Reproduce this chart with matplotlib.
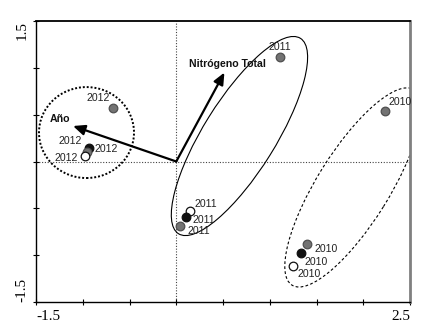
import matplotlib
matplotlib.use("Agg")
import matplotlib.pyplot as plt
from matplotlib.patches import Ellipse
import numpy as np

# ---- data ----
point_years = ["2012", "2012", "2012", "2012",
               "2011", "2011", "2011", "2011",
               "2010", "2010", "2010", "2010"]
point_x = [-0.676, -0.933, -0.955, -0.976,
           1.109, 0.142, 0.104, 0.040,
           2.233, 1.395, 1.334, 1.253]
point_y = [0.571, 0.144, 0.101, 0.059,
           1.115, -0.525, -0.589, -0.685,
           0.539, -0.884, -0.980, -1.112]
point_fill = ["gray", "black", "gray", "white",
              "gray", "white", "black", "gray",
              "gray", "gray", "black", "white"]
label_x = [-0.836, -1.136, -0.751, -1.179,
           1.104, 0.313, 0.291, 0.238,
           2.398, 1.607, 1.500, 1.420]
label_y = [0.678, 0.219, 0.133, 0.037,
           1.222, -0.454, -0.624, -0.742,
           0.635, -0.934, -1.073, -1.201]

vector_names = ["Año", "Nitrógeno Total"]
vector_x = [-1.104, 0.515]
vector_y = [0.379, 0.950]
vector_label_x = [-1.24, 0.545]
vector_label_y = [0.454, 1.040]

# groups: center x, center y, width, height, angle
group_cx = [-0.960, 0.676, 1.890]
group_cy = [0.309, 0.272, -0.277]
group_w = [1.016, 2.46, 2.46]
group_h = [0.971, 0.77, 0.77]
group_angle = [0, 58, 58]

xlim = (-1.5, 2.5)
ylim = (-1.5, 1.5)
xticks = [-1.5, -1.0, -0.5, 0.0, 0.5, 1.0, 1.5, 2.0, 2.5]
xticklabels = ["-1.5", "", "", "", "", "", "", "", "2.5"]
yticks = [-1.5, -1.0, -0.5, 0.0, 0.5, 1.0, 1.5]
yticklabels = ["-1.5", "", "", "", "", "", "1.5"]

# ---- figure ----
fig = plt.figure(figsize=(4.29, 3.31), dpi=100)
ax = fig.add_axes([36/429, 1-302/331, 374/429, 281/331])
ax.set_xlim(*xlim)
ax.set_ylim(*ylim)

ax.axhline(0, color="#444444", lw=0.8, ls=(0, (1, 1.5)), zorder=1)
ax.axvline(0, color="#444444", lw=0.8, ls=(0, (1, 1.5)), zorder=1)

styles = [dict(ls=(0, (1, 1)), lw=1.4), dict(ls="-", lw=0.8), dict(ls=(0, (2.5, 2)), lw=0.8)]
for cx, cy, w, h, a, st in zip(group_cx, group_cy, group_w, group_h, group_angle, styles):
    e = Ellipse((cx, cy), w, h, angle=a, fill=False, edgecolor="black", zorder=2, **st)
    ax.add_patch(e)

for vx, vy in zip(vector_x, vector_y):
    ax.annotate("", xy=(vx, vy), xytext=(0, 0),
                arrowprops=dict(arrowstyle="-|>,head_length=0.5,head_width=0.22",
                                color="black", lw=1.6,
                                mutation_scale=14, shrinkA=0, shrinkB=0),
                zorder=3)
for name, lx, ly in zip(vector_names, vector_label_x, vector_label_y):
    ax.text(lx, ly, name, ha="center", va="center", fontsize=7.6,
            fontweight="bold", family="Liberation Sans", color="#111111", zorder=4)

colors = {"gray": "#737373", "black": "#111111", "white": "white"}
edges = {"gray": "#505050", "black": "#111111", "white": "#111111"}
for x, y, f in zip(point_x, point_y, point_fill):
    ax.plot(x, y, "o", ms=6.2, mfc=colors[f], mec=edges[f], mew=0.9, zorder=5)
for t, lx, ly in zip(point_years, label_x, label_y):
    ax.text(lx, ly, t, ha="center", va="center", fontsize=7.6,
            family="Liberation Sans", color="#222222", zorder=6)

ax.set_xticks(xticks)
ax.set_xticklabels(xticklabels)
ax.set_yticks(yticks)
ax.set_yticklabels(yticklabels, rotation=90)
ax.tick_params(direction="inout", length=5, width=0.8, labelsize=11, pad=3)
for lab in ax.get_xticklabels() + ax.get_yticklabels():
    lab.set_family("Liberation Serif")
xl = ax.get_xticklabels()
xl[0].set_ha("left")
xl[-1].set_ha("right")
yl = ax.get_yticklabels()
yl[0].set_va("bottom")
yl[-1].set_va("top")

for s in ["left", "bottom", "top"]:
    ax.spines[s].set_color("black")
    ax.spines[s].set_linewidth(1.0)
ax.spines["top"].set_linewidth(1.3)
ax.spines["right"].set_color("#808080")
ax.spines["right"].set_linewidth(2.0)

fig.savefig("out.png", dpi=100)
